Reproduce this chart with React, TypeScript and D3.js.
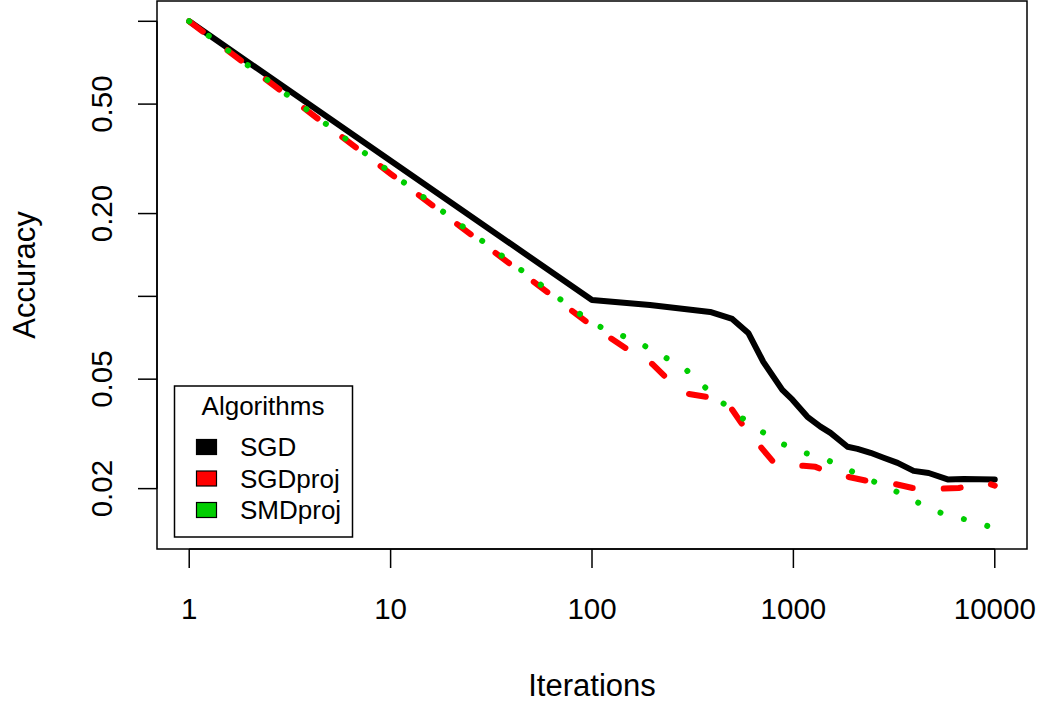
import React from "react";
import * as d3 from "d3";

const ITER_SGD = [1, 10, 100, 194, 386, 497, 597, 709, 881, 989, 1174, 1362, 1528, 1857, 2081, 2416, 2805, 3291, 3953, 4696, 5834, 7014, 10000];
const ACC_SGD = [1.0, 0.311, 0.097, 0.093, 0.0878, 0.0828, 0.0736, 0.0578, 0.0457, 0.0421, 0.0365, 0.0336, 0.0319, 0.0284, 0.0279, 0.027, 0.0259, 0.0248, 0.0232, 0.0228, 0.0216, 0.0217, 0.0216];

const ITER_SGDPROJ = [1, 10, 100, 149, 199, 231, 300, 373, 459, 497, 564, 701, 795, 966, 1121, 1287, 1362, 1856, 2281, 3181, 3908, 5387, 6622, 9022, 10000];
const ACC_SGDPROJ = [1.0, 0.279, 0.0781, 0.0644, 0.0568, 0.051, 0.0442, 0.0431, 0.0417, 0.0387, 0.0338, 0.0279, 0.025, 0.0244, 0.0242, 0.024, 0.0236, 0.0221, 0.0214, 0.0208, 0.0201, 0.02, 0.0201, 0.021, 0.0205];

const ITER_SMDPROJ = [1, 10, 100, 107, 139, 179, 228, 290, 357, 438, 545, 677, 852, 1096, 1426, 1835, 2335, 3003, 3777, 4805, 6040, 7772, 10000];
const ACC_SMDPROJ = [1.0, 0.282, 0.08, 0.0781, 0.0724, 0.0666, 0.0603, 0.0545, 0.0473, 0.0414, 0.0365, 0.0327, 0.0294, 0.0272, 0.0257, 0.0236, 0.0217, 0.0201, 0.0184, 0.0169, 0.0158, 0.0153, 0.0143];

const SERIES_NAMES = ["SGD", "SGDproj", "SMDproj"];
const SERIES_COLORS = ["#000000", "#FF0000", "#00CD00"];

const X_TICKS = [1, 10, 100, 1000, 10000];
const X_TICK_LABELS = ["1", "10", "100", "1000", "10000"];
const Y_TICKS = [1, 0.5, 0.2, 0.1, 0.05, 0.02];
const Y_TICK_LABELS = ["", "0.50", "0.20", "", "0.05", "0.02"];

const LEGEND_TITLE = "Algorithms";
const X_TITLE = "Iterations";
const Y_TITLE = "Accuracy";

const FONT = "'Liberation Sans', Arial, Helvetica, sans-serif";

export default function App() {
  const W = 1046, H = 705;
  const L = 157, R = 1027, T = 1, B = 549;

  const allX = [...ITER_SGD, ...ITER_SGDPROJ, ...ITER_SMDPROJ];
  const allY = [...ACC_SGD, ...ACC_SGDPROJ, ...ACC_SMDPROJ];
  const lx0 = Math.log10(d3.min(allX)!), lx1 = Math.log10(d3.max(allX)!);
  const ly0 = Math.log10(d3.min(allY)!), ly1 = Math.log10(d3.max(allY)!);
  const ex = (lx1 - lx0) * 0.04, ey = (ly1 - ly0) * 0.04;

  const x = d3.scaleLog().domain([10 ** (lx0 - ex), 10 ** (lx1 + ex)]).range([L, R]);
  const y = d3.scaleLog().domain([10 ** (ly0 - ey), 10 ** (ly1 + ey)]).range([B, T]);

  const line = d3.line<[number, number]>().x(d => x(d[0])).y(d => y(d[1]));

  const series = [
    { pts: ITER_SGD.map((t, i) => [t, ACC_SGD[i]] as [number, number]), dash: undefined as string | undefined },
    { pts: ITER_SGDPROJ.map((t, i) => [t, ACC_SGDPROJ[i]] as [number, number]), dash: "17 31" },
    { pts: ITER_SMDPROJ.map((t, i) => [t, ACC_SMDPROJ[i]] as [number, number]), dash: "0.01 24.4" },
  ];

  const legendRows = [447, 478.5, 510];

  return (
    <svg width={W} height={H} style={{ position: "absolute", left: 0, top: 0, background: "#fff" }} fontFamily={FONT}>
      <rect x={0} y={0} width={W} height={H} fill="#fff" />
      {series.map((s, i) => (
        <path key={i} d={line(s.pts)!} fill="none" stroke={SERIES_COLORS[i]} strokeWidth={6}
          strokeLinecap="round" strokeLinejoin="round" strokeDasharray={s.dash} />
      ))}
      <rect x={L} y={T} width={R - L} height={B - T} fill="none" stroke="#000" strokeWidth={1.5} />
      {/* x axis */}
      <line x1={x(X_TICKS[0])} x2={x(X_TICKS[X_TICKS.length - 1])} y1={B} y2={B} stroke="#000" strokeWidth={1.5} />
      {X_TICKS.map((t, i) => (
        <g key={i}>
          <line x1={x(t)} x2={x(t)} y1={B} y2={B + 19} stroke="#000" strokeWidth={1.5} />
          <text x={x(t)} y={619} textAnchor="middle" fontSize={29.5}>{X_TICK_LABELS[i]}</text>
        </g>
      ))}
      {/* y axis */}
      <line x1={L} x2={L} y1={y(Y_TICKS[0])} y2={y(Y_TICKS[Y_TICKS.length - 1])} stroke="#000" strokeWidth={1.5} />
      {Y_TICKS.map((t, i) => (
        <g key={i}>
          <line x1={L - 19} x2={L} y1={y(t)} y2={y(t)} stroke="#000" strokeWidth={1.5} />
          {Y_TICK_LABELS[i] && (
            <text transform={`translate(112,${y(t)}) rotate(-90)`} textAnchor="middle" fontSize={29.5}>{Y_TICK_LABELS[i]}</text>
          )}
        </g>
      ))}
      <text x={(L + R) / 2} y={696} textAnchor="middle" fontSize={31}>{X_TITLE}</text>
      <text transform={`translate(35,${(T + B) / 2}) rotate(-90)`} textAnchor="middle" fontSize={31}>{Y_TITLE}</text>
      {/* legend */}
      <rect x={174.5} y={386} width={178} height={151} fill="#fff" stroke="#000" strokeWidth={1.5} />
      <text x={263} y={415} textAnchor="middle" fontSize={26}>{LEGEND_TITLE}</text>
      {SERIES_NAMES.map((n, i) => (
        <g key={n}>
          <rect x={196.5} y={legendRows[i] - 7.5} width={20} height={15} fill={SERIES_COLORS[i]} stroke="#000" strokeWidth={1.2} />
          <text x={240} y={legendRows[i] + 9} fontSize={26}>{n}</text>
        </g>
      ))}
    </svg>
  );
}
